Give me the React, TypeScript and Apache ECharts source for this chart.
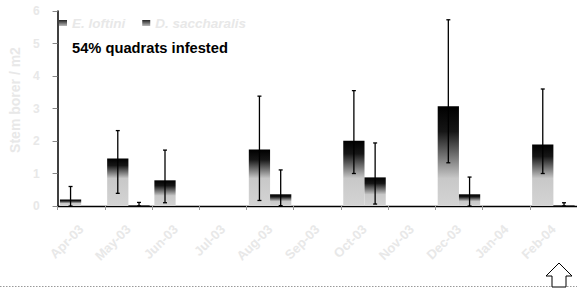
import React, { useEffect, useRef } from "react";
import * as echarts from "echarts";

const months = ["Apr-03", "May-03", "Jun-03", "Jul-03", "Aug-03", "Sep-03", "Oct-03", "Nov-03", "Dec-03", "Jan-04", "Feb-04"];
const eLoftini = [0.2, 1.46, 0.79, null, 1.74, null, 2.01, null, 3.07, null, 1.89];
const eLoftiniLow = [0, 0.39, 0.1, null, 0.17, null, 1.0, null, 1.33, null, 1.0];
const eLoftiniHigh = [0.6, 2.32, 1.72, null, 3.38, null, 3.55, null, 5.73, null, 3.6];
const dSaccharalis = [null, 0.02, null, null, 0.36, null, 0.88, null, 0.36, null, 0.02];
const dSaccharalisLow = [null, 0, null, null, 0.01, null, 0.06, null, 0, null, 0];
const dSaccharalisHigh = [null, 0.11, null, null, 1.11, null, 1.94, null, 0.89, null, 0.1];
const seriesNames = ["E. loftini", "D. saccharalis"];
const note = "54% quadrats infested";
const yTitle = "Stem borer / m2";

const FONT = "'Liberation Sans', Arial, sans-serif";
const LIGHT = "#e8e8e8";
const CAT_GAP = 0.1;

function barFill(v: number) {
  const f = v > 1.1 ? (v - 0.85) / v : 0.6;
  return new echarts.graphic.LinearGradient(0, 0, 0, 1, [
    { offset: 0, color: "#000000" },
    { offset: f * 0.35, color: "#161616" },
    { offset: f * 0.7, color: "#767676" },
    { offset: f, color: "#c8c8c8" },
    { offset: 1, color: "#d4d4d4" },
  ]);
}

const legendFill = () =>
  new echarts.graphic.LinearGradient(0, 0, 0, 1, [
    { offset: 0, color: "#222" },
    { offset: 1, color: "#bbb" },
  ]);

function toBarData(vals: (number | null)[]) {
  return vals.map((v) => (v == null ? "-" : { value: v, itemStyle: { color: barFill(v) } }));
}

function toErrData(lo: (number | null)[], hi: (number | null)[], sign: number) {
  const out: number[][] = [];
  lo.forEach((l, i) => {
    const h = hi[i];
    if (l != null && h != null) out.push([i, l, h, sign]);
  });
  return out;
}

const renderErr = (params: any, api: any) => {
  const i = api.value(0);
  const lo = api.value(1);
  const hi = api.value(2);
  const s = api.value(3);
  const cw = api.size([1, 0])[0];
  const bw = (cw * (1 - CAT_GAP)) / 2;
  const b = api.coord([i, lo]);
  const t = api.coord([i, hi]);
  const x = b[0] + (s * bw) / 2;
  const st = { stroke: "#000", lineWidth: 1.3 };
  return {
    type: "group",
    children: [
      { type: "line", shape: { x1: x, y1: b[1], x2: x, y2: t[1] }, style: st },
      { type: "line", shape: { x1: x - 2, y1: t[1], x2: x + 2, y2: t[1] }, style: st },
      { type: "line", shape: { x1: x - 2, y1: b[1], x2: x + 2, y2: b[1] }, style: st },
    ],
  };
};

export default function App() {
  const ref = useRef<HTMLDivElement>(null);
  useEffect(() => {
    if (!ref.current) return;
    const chart = echarts.init(ref.current, undefined, { renderer: "svg" });
    chart.setOption({
      animation: false,
      backgroundColor: "#ffffff",
      textStyle: { fontFamily: FONT },
      grid: { left: 49, right: 0, top: 11, bottom: 87 },
      legend: {
        data: seriesNames,
        left: 54,
        top: 11,
        itemWidth: 8,
        itemHeight: 6,
        itemGap: 17,
        icon: "rect",
        textStyle: { color: LIGHT, fontWeight: "bold", fontStyle: "italic", fontSize: 13.5, fontFamily: FONT },
      },
      xAxis: {
        type: "category",
        data: months,
        boundaryGap: true,
        axisLine: { lineStyle: { color: "#000", width: 1.4 } },
        axisTick: { show: true, length: 4, lineStyle: { color: "#999" } },
        axisLabel: { interval: 0, rotate: 45, margin: 21, color: LIGHT, fontWeight: "bold", fontSize: 13, fontFamily: FONT },
        splitLine: { show: false },
      },
      yAxis: {
        type: "value",
        min: 0,
        max: 6,
        interval: 1,
        name: yTitle,
        nameLocation: "middle",
        nameGap: 27,
        nameTextStyle: { color: LIGHT, fontWeight: "bold", fontSize: 14, fontFamily: FONT, padding: [0, 0, 0, 17] },
        axisLine: { show: true, lineStyle: { color: "#000", width: 1.5 } },
        axisTick: { show: true, length: 5, lineStyle: { color: "#888" } },
        axisLabel: { margin: 18, color: LIGHT, fontWeight: "bold", fontSize: 12, fontFamily: FONT },
        splitLine: { show: false },
      },
      series: [
        {
          name: seriesNames[0],
          type: "bar",
          barGap: "0%",
          barCategoryGap: CAT_GAP * 100 + "%",
          itemStyle: { color: legendFill() },
          data: toBarData(eLoftini),
        },
        {
          name: seriesNames[1],
          type: "bar",
          barGap: "0%",
          barCategoryGap: CAT_GAP * 100 + "%",
          itemStyle: { color: legendFill() },
          data: toBarData(dSaccharalis),
        },
        {
          name: "err-eloftini",
          type: "custom",
          renderItem: renderErr,
          encode: { x: 0, y: [1, 2] },
          data: toErrData(eLoftiniLow, eLoftiniHigh, -1),
          z: 10,
          silent: true,
        },
        {
          name: "err-dsaccharalis",
          type: "custom",
          renderItem: renderErr,
          encode: { x: 0, y: [1, 2] },
          data: toErrData(dSaccharalisLow, dSaccharalisHigh, 1),
          z: 10,
          silent: true,
        },
      ],
      graphic: [
        {
          type: "text",
          x: 72,
          y: 48,
          style: { text: note, fill: "#000", fontWeight: "bold", fontSize: 14.7, fontFamily: FONT, verticalAlign: "middle" },
        },
        {
          type: "line",
          shape: { x1: 0, y1: 286.5, x2: 577, y2: 286.5 },
          style: { stroke: "#999", lineWidth: 1, lineDash: [1.5, 1.5] },
        },
        {
          type: "polygon",
          shape: { points: [[559, 263], [572, 276], [566, 276], [566, 287], [552, 287], [552, 276], [546, 276]] },
          style: { fill: "#fff", stroke: "#000", lineWidth: 1 },
          z: 20,
        },
      ],
    });
    return () => chart.dispose();
  }, []);
  return <div ref={ref} style={{ position: "fixed", left: 0, top: 0, width: 577, height: 293 }} />;
}
